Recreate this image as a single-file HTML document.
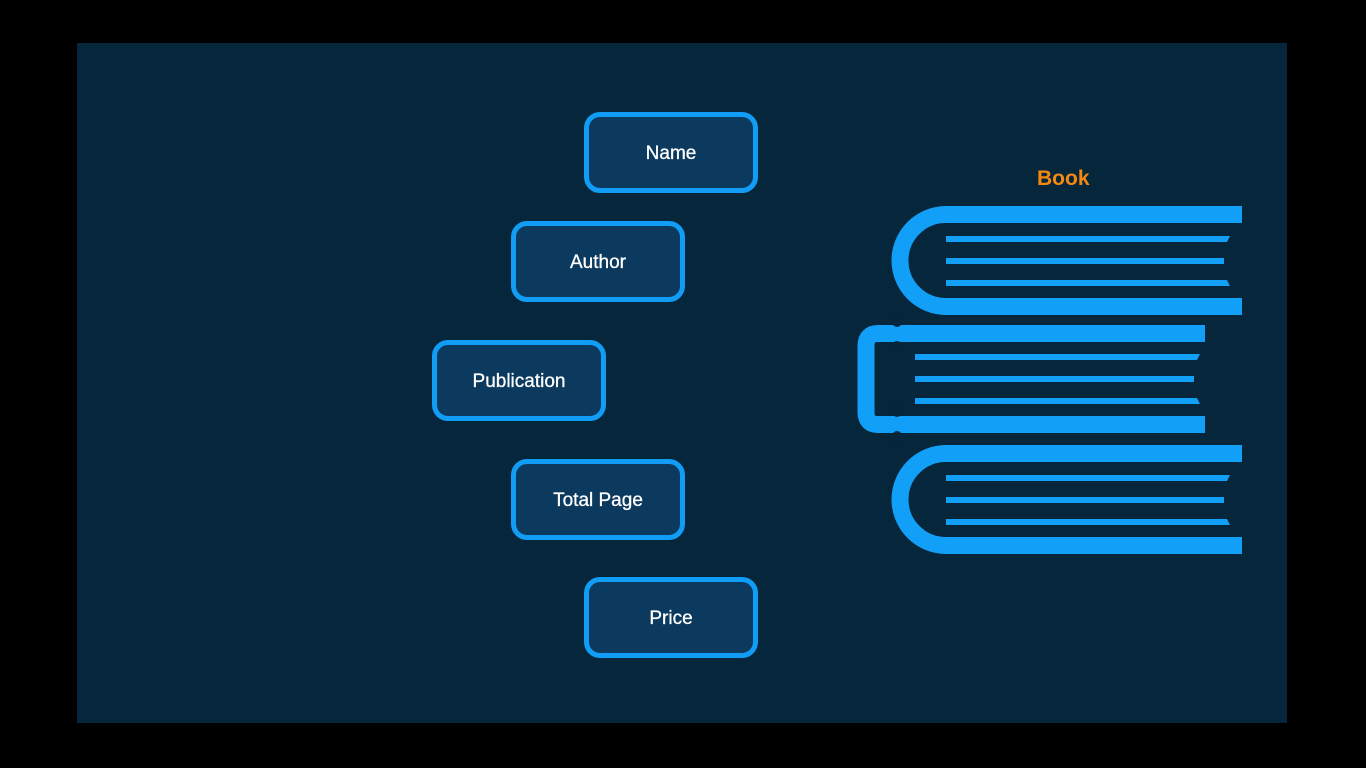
<!DOCTYPE html>
<html><head><style>
html,body{margin:0;padding:0;background:#000;width:1366px;height:768px;overflow:hidden}
.panel{position:absolute;left:77px;top:43px;width:1210px;height:680px;background:#05263b}
.box{position:absolute;box-sizing:border-box;width:174px;height:81px;border:5px solid #119cf5;border-radius:16px;background:#0c3a5f;color:#fff;font:19px "Liberation Sans",sans-serif;display:flex;align-items:center;justify-content:center;padding-top:3px;-webkit-text-stroke:0.3px #fff}
.t{position:absolute;left:1037px;top:167px;color:#f5880f;font:bold 21px "Liberation Sans",sans-serif}
</style></head><body>
<div class="panel"></div>
<div class="box" style="left:584px;top:112px">Name</div>
<div class="box" style="left:511px;top:221px">Author</div>
<div class="box" style="left:432px;top:340px">Publication</div>
<div class="box" style="left:511px;top:459px">Total Page</div>
<div class="box" style="left:584px;top:577px">Price</div>
<div class="t">Book</div>
<svg width="1366" height="768" style="position:absolute;left:0;top:0" fill="none" stroke="#129ff7">
<g stroke-width="17">
<path d="M1242 214.5 H946 A46 46 0 0 0 946 306.5 H1242"/>
<path d="M1242 453.5 H946 A46 46 0 0 0 946 545.5 H1242"/>
<path d="M1205 333.5 H878 Q866 333.5 866 346 V412 Q866 424.5 878 424.5 H1205" stroke-linejoin="round"/>
</g>
<g fill="#05263b" stroke="none">
<circle cx="897" cy="322" r="5"/>
<circle cx="897" cy="436" r="5"/>
<circle cx="897" cy="346" r="5"/>
<circle cx="897" cy="412" r="5"/>
</g>
<g fill="#129ff7" stroke="none">
<polygon points="946,236 1230,236 1227,242 946,242"/>
<rect x="946" y="258" width="278" height="6"/>
<polygon points="946,280 1227,280 1230,286 946,286"/>
<polygon points="946,475 1230,475 1227,481 946,481"/>
<rect x="946" y="497" width="278" height="6"/>
<polygon points="946,519 1227,519 1230,525 946,525"/>
<polygon points="915,354 1200,354 1197,360 915,360"/>
<rect x="915" y="376" width="279" height="6"/>
<polygon points="915,398 1197,398 1200,404 915,404"/>
</g>
</svg>
</body></html>
